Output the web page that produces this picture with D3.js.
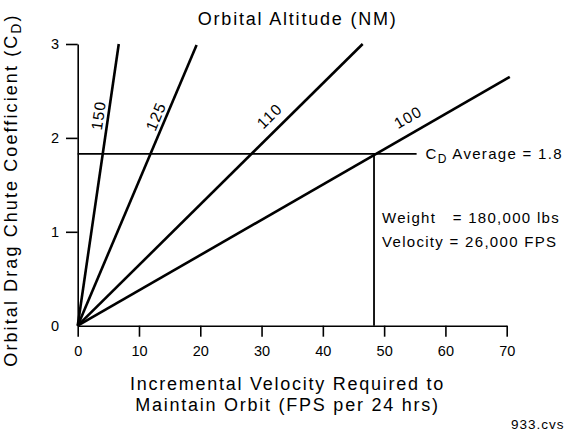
<!DOCTYPE html>
<html><head><meta charset="utf-8">
<script src="https://cdn.jsdelivr.net/npm/d3@7"></script>
<style>
html,body{margin:0;padding:0;background:#fff;}
svg{display:block;font-family:"Liberation Sans",Arial,Helvetica,sans-serif;}
</style></head>
<body><svg id="chart" width="570" height="435"></svg>
<script>
// ---- data ----
const altitudes = ["150", "125", "110", "100"];
const lineEndX = [6.7, 19.4, 46.5, 70.5];
const lineEndY = [3.0, 2.99, 3.0, 2.65];
const labelX = [3.38, 12.75, 31.3, 53.9];
const labelY = [2.24, 2.23, 2.235, 2.22];
const xTicks = [0, 10, 20, 30, 40, 50, 60, 70];
const yTicks = [0, 1, 2, 3];
const cdAverage = 1.83;
const cdAverageLabel = "Average = 1.8";
const crossX = 48.35;
const avgLineEndX = 55.3;
const noteLines = ["Weight   = 180,000 lbs", "Velocity = 26,000 FPS"];
const noteY = [1.09, 0.84];
const titleText = "Orbital Altitude (NM)";
const xTitle = ["Incremental Velocity Required to", "Maintain Orbit (FPS per 24 hrs)"];
const yTitle = "Orbital Drag Chute Coefficient (C";
const fileTag = "933.cvs";

// ---- scales ----
const svg = d3.select("#chart");
const x = d3.scaleLinear().domain([0, 70]).range([77.7, 506.7]);
const y = d3.scaleLinear().domain([0, 3]).range([325.7, 44]);

// ---- axes ----
const xAxis = d3.axisBottom(x).tickValues(xTicks).tickFormat(d3.format("d"))
  .tickSize(11).tickSizeOuter(0).tickPadding(9);
const gx = svg.append("g").attr("transform", `translate(0,${y(0)})`).call(xAxis);
gx.attr("font-family", null).attr("font-size", null);
gx.selectAll("text").attr("font-size", 14.5).attr("fill", "#000");
gx.selectAll("line,path").attr("stroke", "#000").attr("stroke-width", 1.6);

const yAxis = d3.axisLeft(y).tickValues(yTicks).tickFormat(d3.format("d"))
  .tickSize(11.7).tickSizeOuter(0).tickPadding(7);
const gy = svg.append("g").attr("transform", `translate(${x(0)},0)`).call(yAxis);
gy.attr("font-family", null).attr("font-size", null);
gy.selectAll("text").attr("font-size", 14.5).attr("fill", "#000");
gy.selectAll("line,path").attr("stroke", "#000").attr("stroke-width", 1.6);
gy.selectAll(".tick").filter(d => d === 0).select("line").remove();

// ---- altitude lines ----
const lines = altitudes.map((a, i) => ({a, x1: lineEndX[i], y1: lineEndY[i], lx: labelX[i], ly: labelY[i]}));
svg.append("g").selectAll("line").data(lines).join("line")
  .attr("x1", x(0)).attr("y1", y(0))
  .attr("x2", d => x(d.x1)).attr("y2", d => y(d.y1))
  .attr("stroke", "#000").attr("stroke-width", 2.6).attr("stroke-linecap", "butt");

svg.append("g").selectAll("text").data(lines).join("text")
  .attr("transform", d => {
    const ang = Math.atan2(y(d.y1) - y(0), x(d.x1) - x(0)) * 180 / Math.PI;
    return `translate(${x(d.lx)},${y(d.ly)}) rotate(${ang})`;
  })
  .attr("text-anchor", "middle").attr("dominant-baseline", "central")
  .attr("font-size", 15.5).attr("letter-spacing", 1.2)
  .text(d => d.a);

// ---- average line & crossing ----
svg.append("line")
  .attr("x1", x(0)).attr("x2", x(avgLineEndX))
  .attr("y1", y(cdAverage)).attr("y2", y(cdAverage))
  .attr("stroke", "#000").attr("stroke-width", 1.8);
svg.append("line")
  .attr("x1", x(crossX)).attr("x2", x(crossX))
  .attr("y1", y(cdAverage)).attr("y2", y(0))
  .attr("stroke", "#000").attr("stroke-width", 1.8);

const avgT = svg.append("text")
  .attr("x", x(avgLineEndX) + 9).attr("y", y(cdAverage) + 5)
  .attr("font-size", 15).attr("letter-spacing", 1.3);
avgT.append("tspan").text("C");
avgT.append("tspan").attr("dy", 4).attr("font-size", 12).text("D");
avgT.append("tspan").attr("dy", -4).text(" " + cdAverageLabel);

svg.append("g").selectAll("text").data(noteLines).join("text")
  .attr("x", x(crossX) + 8).attr("y", (d, i) => y(noteY[i]))
  .attr("font-size", 15).attr("letter-spacing", 1.3)
  .attr("xml:space", "preserve").style("white-space", "pre")
  .text(d => d);

// ---- titles ----
svg.append("text")
  .attr("x", 297.7).attr("y", 25)
  .attr("text-anchor", "middle").attr("font-size", 18).attr("letter-spacing", 1.8)
  .text(titleText);

svg.append("g").selectAll("text").data(xTitle).join("text")
  .attr("x", 287.5).attr("y", (d, i) => 390 + i * 20.7)
  .attr("text-anchor", "middle").attr("font-size", 18).attr("letter-spacing", 1.75)
  .text(d => d);

const yt = svg.append("text")
  .attr("transform", "translate(16.5,190) rotate(-90)")
  .attr("text-anchor", "middle").attr("font-size", 18).attr("letter-spacing", 2.1);
yt.append("tspan").text(yTitle);
yt.append("tspan").attr("dy", 4).attr("font-size", 14).text("D");
yt.append("tspan").attr("dy", -4).text(")");

svg.append("text")
  .attr("x", 511).attr("y", 429)
  .attr("font-size", 13.5).attr("letter-spacing", 1)
  .text(fileTag);
</script>
</body></html>
